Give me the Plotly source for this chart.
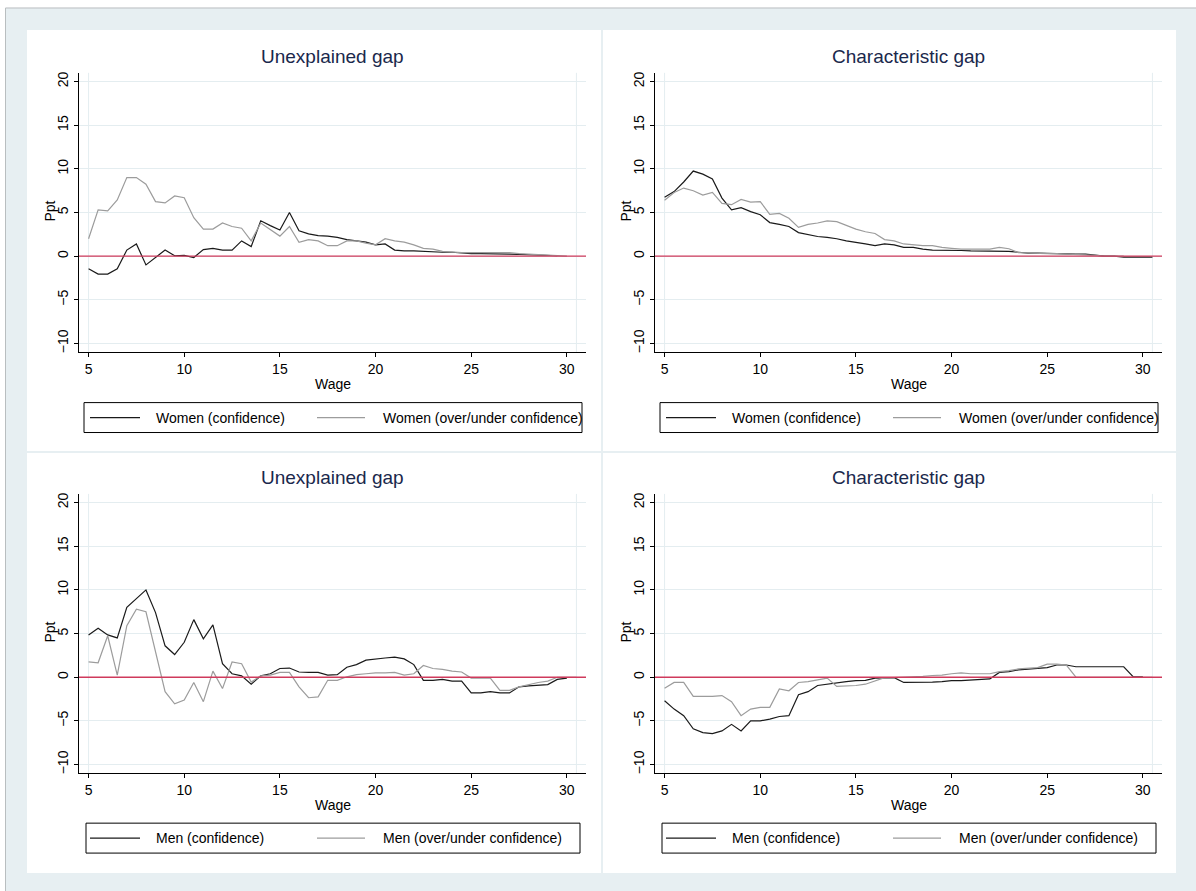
import plotly.graph_objects as go

# ---------------- data ----------------
wage = [5.0, 5.5, 6.0, 6.5, 7.0, 7.5, 8.0, 8.5, 9.0, 9.5,
        10.0, 10.5, 11.0, 11.5, 12.0, 12.5, 13.0, 13.5, 14.0, 14.5,
        15.0, 15.5, 16.0, 16.5, 17.0, 17.5, 18.0, 18.5, 19.0, 19.5,
        20.0, 20.5, 21.0, 21.5, 22.0, 22.5, 23.0, 23.5, 24.0, 24.5,
        25.0, 25.5, 26.0, 26.5, 27.0, 27.5, 28.0, 28.5, 29.0, 29.5,
        30.0, 30.5]

women_conf_unexpl = [-1.45, -2.05, -2.05, -1.45, 0.7, 1.4, -1.0, -0.2, 0.7, 0.05,
                     0.1, -0.15, 0.75, 0.9, 0.7, 0.7, 1.75, 1.1, 4.05, 3.5,
                     3.0, 5.0, 2.9, 2.55, 2.35, 2.3, 2.15, 1.9, 1.75, 1.6,
                     1.3, 1.4, 0.7, 0.6, 0.6, 0.55, 0.42, 0.45, 0.45, 0.35,
                     0.3, 0.3, 0.3, 0.28, 0.23, 0.2, 0.15, 0.1, 0.05, 0.05,
                     None, None]
women_over_unexpl = [2.0, 5.3, 5.2, 6.45, 9.0, 9.0, 8.25, 6.25, 6.1, 6.9,
                     6.7, 4.4, 3.1, 3.1, 3.8, 3.4, 3.2, 1.75, 3.8, 3.0,
                     2.3, 3.4, 1.6, 1.9, 1.75, 1.2, 1.2, 1.75, 1.75, 1.5,
                     1.3, 2.0, 1.75, 1.6, 1.3, 0.9, 0.8, 0.55, 0.45, 0.4,
                     0.4, 0.4, 0.4, 0.4, 0.4, 0.3, 0.23, 0.15, 0.08, 0.0,
                     0.0, None]

women_conf_char = [6.75, 7.4, 8.5, 9.75, 9.4, 8.85, 6.65, 5.3, 5.55, 5.1,
                   4.75, 3.85, 3.65, 3.4, 2.7, 2.5, 2.25, 2.15, 2.0, 1.75,
                   1.6, 1.4, 1.2, 1.4, 1.3, 1.0, 1.0, 0.8, 0.7, 0.7,
                   0.7, 0.65, 0.6, 0.6, 0.6, 0.6, 0.55, 0.45, 0.35, 0.35,
                   0.3, 0.25, 0.23, 0.23, 0.23, 0.1, 0.0, 0.0, -0.1, -0.1,
                   -0.1, -0.1]
women_over_char = [6.4, 7.3, 7.8, 7.5, 7.0, 7.3, 6.05, 5.9, 6.5, 6.2,
                   6.25, 4.8, 4.9, 4.35, 3.3, 3.65, 3.8, 4.05, 3.95, 3.5,
                   3.1, 2.8, 2.6, 1.9, 1.75, 1.4, 1.3, 1.2, 1.2, 1.0,
                   0.9, 0.8, 0.8, 0.8, 0.8, 1.0, 0.85, 0.4, 0.35, 0.35,
                   0.3, 0.3, 0.25, 0.25, 0.2, 0.1, 0.0, 0.0, 0.0, None,
                   None, None]

men_conf_unexpl = [4.85, 5.6, 4.85, 4.5, 8.0, 8.95, 10.0, 7.4, 3.6, 2.6,
                   4.0, 6.6, 4.4, 6.0, 1.55, 0.4, 0.15, -0.8, 0.15, 0.4,
                   1.0, 1.05, 0.6, 0.55, 0.55, 0.25, 0.3, 1.15, 1.45, 1.95,
                   2.1, 2.2, 2.3, 2.1, 1.45, -0.35, -0.35, -0.25, -0.45, -0.45,
                   -1.8, -1.8, -1.65, -1.8, -1.8, -1.1, -1.0, -0.9, -0.85, -0.25,
                   -0.1, None]
men_over_unexpl = [1.75, 1.65, 4.75, 0.25, 5.9, 7.8, 7.5, 3.0, -1.65, -3.05,
                   -2.6, -0.6, -2.8, 0.7, -1.3, 1.75, 1.55, -0.55, 0.15, 0.25,
                   0.55, 0.55, -1.1, -2.35, -2.25, -0.35, -0.35, 0.05, 0.3, 0.4,
                   0.5, 0.5, 0.55, 0.25, 0.4, 1.35, 1.0, 0.9, 0.7, 0.6,
                   -0.1, -0.1, -0.1, -1.5, -1.5, -1.1, -0.85, -0.6, -0.45, 0.0,
                   0.0, 0.0]

men_conf_char = [-2.7, -3.65, -4.4, -5.9, -6.35, -6.45, -6.15, -5.4, -6.15, -5.0,
                 -5.0, -4.8, -4.5, -4.4, -2.0, -1.65, -0.95, -0.8, -0.6, -0.5,
                 -0.4, -0.35, -0.1, -0.05, -0.05, -0.6, -0.6, -0.6, -0.55, -0.5,
                 -0.4, -0.4, -0.35, -0.3, -0.2, 0.55, 0.65, 0.85, 0.95, 1.05,
                 1.1, 1.4, 1.4, 1.2, 1.2, 1.2, 1.2, 1.2, 1.2, 0.05,
                 0.05, None]
men_over_char = [-1.25, -0.6, -0.6, -2.2, -2.2, -2.2, -2.1, -2.8, -4.4, -3.65,
                 -3.45, -3.45, -1.35, -1.55, -0.6, -0.5, -0.3, -0.1, -1.05, -1.0,
                 -0.95, -0.8, -0.4, -0.05, -0.05, 0.0, 0.0, 0.1, 0.2, 0.25,
                 0.4, 0.5, 0.4, 0.4, 0.4, 0.65, 0.75, 0.95, 1.05, 1.1,
                 1.5, 1.5, 1.4, 0.0, 0.0, 0.0, 0.0, 0.0, 0.0, 0.0,
                 0.0, 0.0]

panel_titles = ["Unexplained gap", "Characteristic gap", "Unexplained gap", "Characteristic gap"]
series_names = [("Women (confidence)", "Women (over/under confidence)"),
                ("Women (confidence)", "Women (over/under confidence)"),
                ("Men (confidence)", "Men (over/under confidence)"),
                ("Men (confidence)", "Men (over/under confidence)")]
series_values = [(women_conf_unexpl, women_over_unexpl),
                 (women_conf_char, women_over_char),
                 (men_conf_unexpl, men_over_unexpl),
                 (men_conf_char, men_over_char)]
x_ticks = [5, 10, 15, 20, 25, 30]
y_ticks = [-10, -5, 0, 5, 10, 15, 20]
x_title = "Wage"
y_title = "Ppt"

# ---------------- layout helpers ----------------
W, H = 1196, 891
def px(x):
    return x / W
def py(y):
    return 1 - y / H

FONT = "Liberation Sans, Arial, Helvetica, sans-serif"
BAND = "#e7eff2"
GRID = "#e4edf0"
BLACK = "#1a1a1a"
GREY = "#9c9c9c"
RED = "#cf3a5c"
TITLE_C = "#1a284c"

# panel pixel geometry: (axis-left x, axis-right x, top y, x-axis y)
geo = [(79, 586, 72, 352), (655, 1162, 72, 352),
       (79, 586, 494, 774), (655, 1162, 494, 774)]
legend_y = [417.5, 417.5, 839, 839]

fig = go.Figure()
shapes = []
annotations = []

# background frame
shapes.append(dict(type="rect", xref="paper", yref="paper", x0=px(5.5), x1=px(1200), y0=py(895), y1=py(7),
                   fillcolor=BAND, line=dict(color="#b9bec0", width=1), layer="below"))
shapes.append(dict(type="rect", xref="paper", yref="paper", x0=px(27), x1=px(1176), y0=py(874), y1=py(29),
                   fillcolor="white", line=dict(width=0), layer="below"))
shapes.append(dict(type="line", xref="paper", yref="paper", x0=px(602), x1=px(602), y0=py(874), y1=py(29),
                   line=dict(color=BAND, width=2), layer="below"))
shapes.append(dict(type="line", xref="paper", yref="paper", x0=px(27), x1=px(1176), y0=py(452), y1=py(452),
                   line=dict(color=BAND, width=2), layer="below"))

for i in range(4):
    k = "" if i == 0 else str(i + 1)
    xa, ya = "x" + k, "y" + k
    xl, xr, yt, yb = geo[i]
    b_vals, g_vals = series_values[i]
    b_name, g_name = series_names[i]

    fig.add_trace(go.Scatter(x=wage, y=b_vals, mode="lines", name=b_name, xaxis=xa, yaxis=ya,
                             line=dict(color=BLACK, width=1.2), showlegend=False, connectgaps=False))
    fig.add_trace(go.Scatter(x=wage, y=g_vals, mode="lines", name=g_name, xaxis=xa, yaxis=ya,
                             line=dict(color=GREY, width=1.2), showlegend=False, connectgaps=False))

    fig.layout["xaxis" + k] = dict(domain=[px(xl), px(xr)], anchor=ya, range=[4.5, 31],
                                   tickvals=x_ticks, ticks="outside", ticklen=4, tickcolor="black",
                                   showline=True, linecolor="black", linewidth=1,
                                   showgrid=False, zeroline=False, fixedrange=True,
                                   tickfont=dict(family=FONT, size=14, color="black"))
    fig.layout["yaxis" + k] = dict(domain=[py(yb), py(yt)], anchor=xa, range=[-11, 21],
                                   tickvals=y_ticks, tickangle=-90, ticks="outside", ticklen=4,
                                   tickcolor="black", showline=True, linecolor="black", linewidth=1,
                                   showgrid=True, gridcolor=GRID, gridwidth=1, zeroline=False, fixedrange=True,
                                   tickfont=dict(family=FONT, size=14, color="black"))

    # faint plot-region edges at x=5 and x=30.5
    for xv in (5, 30.5):
        shapes.append(dict(type="line", xref=xa, yref=ya + " domain", x0=xv, x1=xv, y0=0, y1=1,
                           line=dict(color=GRID, width=1), layer="below"))
    # red zero line
    shapes.append(dict(type="line", xref=xa + " domain", yref=ya, x0=0, x1=1, y0=0, y1=0,
                       line=dict(color=RED, width=1.3), layer="above"))

    # titles
    annotations.append(dict(text=panel_titles[i], xref="paper", yref="paper", x=px((xl + xr) / 2), y=py(yt - 16),
                            xanchor="center", yanchor="middle", showarrow=False,
                            font=dict(family=FONT, size=19, color=TITLE_C)))
    annotations.append(dict(text=x_title, xref="paper", yref="paper", x=px((xl + xr) / 2), y=py(yb + 32),
                            xanchor="center", yanchor="middle", showarrow=False,
                            font=dict(family=FONT, size=14, color="black")))
    annotations.append(dict(text=y_title, xref="paper", yref="paper", x=px(xl - 29), y=py((yt + yb) / 2 - 1),
                            xanchor="center", yanchor="middle", textangle=-90, showarrow=False,
                            font=dict(family=FONT, size=14, color="black")))

    # legend box
    ly = legend_y[i]
    bl, br = (xl + 5, xl + 503) if i < 2 else (xl + 7, xl + 501)
    shapes.append(dict(type="rect", xref="paper", yref="paper", x0=px(bl), x1=px(br), y0=py(ly + 15), y1=py(ly - 15),
                       fillcolor="white", line=dict(color="black", width=1), layer="above"))
    shapes.append(dict(type="line", xref="paper", yref="paper", x0=px(xl + 11), x1=px(xl + 61), y0=py(ly), y1=py(ly),
                       line=dict(color=BLACK, width=1.2), layer="above"))
    shapes.append(dict(type="line", xref="paper", yref="paper", x0=px(xl + 238), x1=px(xl + 286), y0=py(ly), y1=py(ly),
                       line=dict(color=GREY, width=1.2), layer="above"))
    annotations.append(dict(text=b_name, xref="paper", yref="paper", x=px(xl + 75), y=py(ly),
                            xanchor="left", yanchor="middle", showarrow=False,
                            font=dict(family=FONT, size=14, color="black")))
    annotations.append(dict(text=g_name, xref="paper", yref="paper", x=px(xl + 302), y=py(ly),
                            xanchor="left", yanchor="middle", showarrow=False,
                            font=dict(family=FONT, size=14, color="black")))

fig.update_layout(width=W, height=H, margin=dict(l=0, r=0, t=0, b=0),
                  paper_bgcolor="white", plot_bgcolor="white", hovermode=False,
                  shapes=shapes, annotations=annotations, showlegend=False,
                  font=dict(family=FONT, size=14, color="black"))

fig.write_html("out.html", config={"displayModeBar": False, "staticPlot": True},
               post_script="document.body.style.margin='0px';document.body.style.overflow='hidden';")
